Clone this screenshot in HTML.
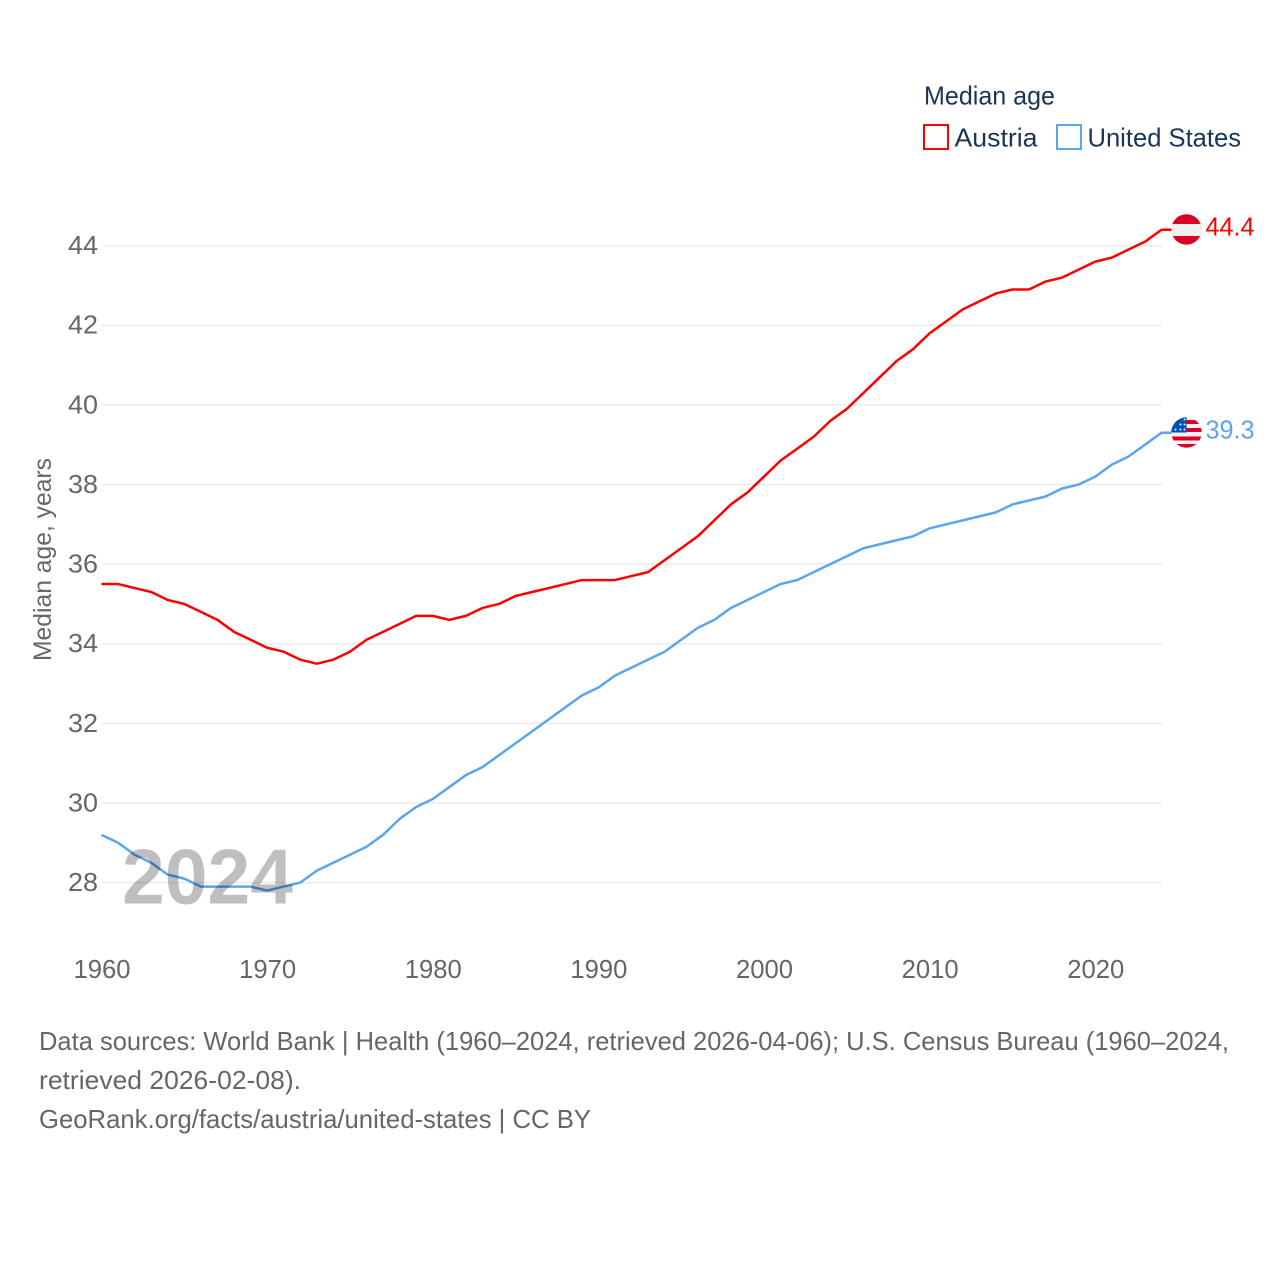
<!DOCTYPE html>
<html>
<head>
<meta charset="utf-8">
<title>Median age: Austria and United States</title>
<style>
html,body{margin:0;padding:0;background:#fff;}
svg{display:block;font-family:"Liberation Sans",sans-serif;}
</style>
</head>
<body>
<svg id="chart" xmlns="http://www.w3.org/2000/svg" width="1280" height="1280" viewBox="0 0 1280 1280">
  <defs>
    <clipPath id="flag-clip"><circle cx="0" cy="0" r="15.2"/></clipPath>
  </defs>
  <rect x="0" y="0" width="1280" height="1280" fill="#fff"/>

  <g>
    <text x="924" y="104.5" font-size="26" fill="#1b3556" textLength="131" lengthAdjust="spacingAndGlyphs">Median age</text>
    <g>
      <rect x="924" y="125" width="24" height="24" fill="none" stroke="#ff0000" stroke-width="2"/>
      <text x="954.5" y="146.5" font-size="26" fill="#1b3556" textLength="83" lengthAdjust="spacingAndGlyphs">Austria</text>
    </g>
    <g>
      <rect x="1057" y="125" width="24" height="24" fill="none" stroke="#5aa5ec" stroke-width="2"/>
      <text x="1087.5" y="146.5" font-size="26" fill="#1b3556" textLength="153.5" lengthAdjust="spacingAndGlyphs">United States</text>
    </g>
  </g>

  <text transform="translate(51,661) rotate(-90)" font-size="25" fill="#666" textLength="203" lengthAdjust="spacingAndGlyphs">Median age, years</text>

  <g id="grid"></g>
  <g id="yticks"></g>
  <g id="xticks"></g>
  <g id="series"></g>

  <text x="122" y="903.5" font-size="78" font-weight="bold" fill="#000" fill-opacity="0.25" textLength="171" lengthAdjust="spacingAndGlyphs">2024</text>

  <g id="flag-austria">
    <g clip-path="url(#flag-clip)">
      <rect x="-16" y="-16" width="32" height="32" fill="#d80027"/>
      <rect x="-16" y="-5.5" width="32" height="12" fill="#f0f0f0"/>
    </g>
  </g>
  <g id="flag-us">
    <g clip-path="url(#flag-clip)">
      <rect x="-16" y="-16" width="32" height="32" fill="#f0f0f0"/>
      <rect x="-16" y="-12.5" width="32" height="4" fill="#d80027"/>
      <rect x="-16" y="-4.5" width="32" height="4" fill="#d80027"/>
      <rect x="-16" y="4" width="32" height="4" fill="#d80027"/>
      <rect x="-16" y="11.5" width="32" height="5" fill="#d80027"/>
      <rect x="-16" y="-16" width="16" height="16" fill="#0052b4"/>
      <circle cx="-11" cy="-3" r="1" fill="#f0f0f0"/>
      <circle cx="-6" cy="-3" r="1" fill="#f0f0f0"/>
      <circle cx="-2" cy="-3" r="1" fill="#f0f0f0"/>
      <circle cx="-6" cy="-8" r="1" fill="#f0f0f0"/>
      <circle cx="-2" cy="-8" r="1" fill="#f0f0f0"/>
      <circle cx="-2" cy="-13" r="1" fill="#f0f0f0"/>
    </g>
  </g>

  <g font-size="26" fill="#666">
    <text x="39" y="1050" textLength="1190" lengthAdjust="spacingAndGlyphs">Data sources: World Bank | Health (1960–2024, retrieved 2026-04-06); U.S. Census Bureau (1960–2024,</text>
    <text x="39" y="1089" textLength="262" lengthAdjust="spacingAndGlyphs">retrieved 2026-02-08).</text>
    <a><text x="39" y="1128" textLength="552" lengthAdjust="spacingAndGlyphs">GeoRank.org/facts/austria/united-states | CC BY</text></a>
  </g>
</svg>
<script>
const years = [1960,1961,1962,1963,1964,1965,1966,1967,1968,1969,1970,1971,1972,1973,1974,1975,1976,1977,1978,1979,1980,1981,1982,1983,1984,1985,1986,1987,1988,1989,1990,1991,1992,1993,1994,1995,1996,1997,1998,1999,2000,2001,2002,2003,2004,2005,2006,2007,2008,2009,2010,2011,2012,2013,2014,2015,2016,2017,2018,2019,2020,2021,2022,2023,2024];
const austriaValues = [35.5,35.5,35.4,35.3,35.1,35.0,34.8,34.6,34.3,34.1,33.9,33.8,33.6,33.5,33.6,33.8,34.1,34.3,34.5,34.7,34.7,34.6,34.7,34.9,35.0,35.2,35.3,35.4,35.5,35.6,35.6,35.6,35.7,35.8,36.1,36.4,36.7,37.1,37.5,37.8,38.2,38.6,38.9,39.2,39.6,39.9,40.3,40.7,41.1,41.4,41.8,42.1,42.4,42.6,42.8,42.9,42.9,43.1,43.2,43.4,43.6,43.7,43.9,44.1,44.4];
const usValues = [29.2,29.0,28.7,28.5,28.2,28.1,27.9,27.9,27.9,27.9,27.8,27.9,28.0,28.3,28.5,28.7,28.9,29.2,29.6,29.9,30.1,30.4,30.7,30.9,31.2,31.5,31.8,32.1,32.4,32.7,32.9,33.2,33.4,33.6,33.8,34.1,34.4,34.6,34.9,35.1,35.3,35.5,35.6,35.8,36.0,36.2,36.4,36.5,36.6,36.7,36.9,37.0,37.1,37.2,37.3,37.5,37.6,37.7,37.9,38.0,38.2,38.5,38.7,39.0,39.3];
const yTickValues = [28,30,32,34,36,38,40,42,44];
const xTickValues = [1960,1970,1980,1990,2000,2010,2020];

const NS = 'http://www.w3.org/2000/svg';
function xScale(year) { return 101.5 + (year - 1960) * (1161.5 - 101.5) / 64; }
function yScale(value) { return 882.6 - (value - 28) * (882.6 - 245.7) / 16; }
function make(tag, attrs, parent) {
  const el = document.createElementNS(NS, tag);
  for (const k in attrs) el.setAttribute(k, attrs[k]);
  parent.appendChild(el);
  return el;
}
const grid = document.getElementById('grid');
const yticks = document.getElementById('yticks');
const xticks = document.getElementById('xticks');
const series = document.getElementById('series');

yTickValues.forEach(function (v) {
  const line = make('line', {x1: 102, x2: 1162, y1: yScale(v), y2: yScale(v), stroke: '#ebebeb', 'stroke-width': 1.5}, grid);
  
  
  const label = make('text', {x: 68, y: yScale(v) + 8.4, 'font-size': 25.5, fill: '#666', textLength: 30, lengthAdjust: 'spacingAndGlyphs'}, yticks);
  
  
  label.textContent = String(v);
});

xTickValues.forEach(function (y) {
  const label = make('text', {x: xScale(y) - 28, y: 978, 'font-size': 25.5, fill: '#666', textLength: 57, lengthAdjust: 'spacingAndGlyphs'}, xticks);
  
  
  label.textContent = String(y);
});

function drawSeries(values, color, key, flagId) {
  const last = values[values.length - 1];
  const lastX = xScale(years[years.length - 1]);
  const lastY = yScale(last);
  const d = values.map(function (v, i) {
    return (i ? 'L' : 'M') + xScale(years[i]).toFixed(2) + ' ' + yScale(v).toFixed(2);
  }).join(' ') + ' L' + (lastX + 10) + ' ' + lastY.toFixed(2);
  const path = make('path', {d: d, fill: 'none', stroke: color, 'stroke-width': 2.5, 'stroke-linejoin': 'round'}, series);
  
  
  const label = make('text', {x: 1205.5, y: lastY + 5.6, 'font-size': 25.5, fill: color, textLength: 49, lengthAdjust: 'spacingAndGlyphs'}, series);
  
  
  label.textContent = last.toFixed(1);
  document.getElementById(flagId).setAttribute('transform', 'translate(1186.5,' + (lastY - 0.3).toFixed(2) + ')');
}
drawSeries(austriaValues, '#ff0000', 'austria', 'flag-austria');
drawSeries(usValues, '#5aa5ec', 'united-states', 'flag-us');
</script>
</body>
</html>
